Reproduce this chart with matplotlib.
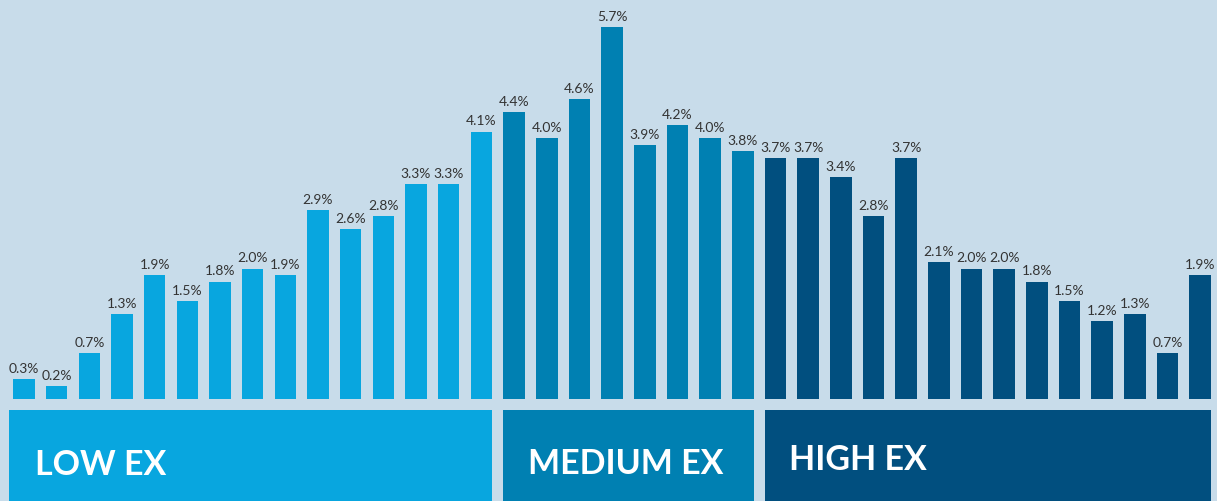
import matplotlib
matplotlib.use("Agg")
import matplotlib.pyplot as plt
from matplotlib.patches import Rectangle

low_vals = [0.3, 0.2, 0.7, 1.3, 1.9, 1.5, 1.8, 2.0, 1.9, 2.9, 2.6, 2.8, 3.3, 3.3, 4.1]
medium_vals = [4.4, 4.0, 4.6, 5.7, 3.9, 4.2, 4.0, 3.8]
high_vals = [3.7, 3.7, 3.4, 2.8, 3.7, 2.1, 2.0, 2.0, 1.8, 1.5, 1.2, 1.3, 0.7, 1.9]
group_names = ["LOW EX", "MEDIUM EX", "HIGH EX"]
group_colors = ["#08A6DF", "#0080B2", "#014F7F"]
bg = "#C8DCEA"

fig = plt.figure(figsize=(12.17, 5.02), dpi=100)
fig.patch.set_facecolor(bg)
ax = fig.add_axes([0, 0, 1, 1])
ax.set_facecolor(bg)
step = 32.67
ax.set_xlim(-24 / step, (1217 - 24) / step)
ppu = 65.2
ax.set_ylim(-(102 / ppu), 400 / ppu)
ax.axis("off")

bw = 0.66
start = 0
groups = [low_vals, medium_vals, high_vals]
text_pos = [(35, -0.99), (528, -0.98), (789, -0.92)]
for g, (vals, name, col) in enumerate(zip(groups, group_names, group_colors)):
    xs = list(range(start, start + len(vals)))
    ax.bar(xs, vals, width=bw, color=col, edgecolor="none")
    for x, v in zip(xs, vals):
        ax.text(x, v + 0.08, f"{v:.1f}%", ha="center", va="bottom",
                fontsize=10, color="#333333", family="Lato")
    left = xs[0] - bw / 2 - (0.12 if g == 0 else 0)
    right = xs[-1] + bw / 2
    ax.add_patch(Rectangle((left, -0.168), right - left, -2, color=col, lw=0))
    tx = (text_pos[g][0] - 24) / step
    ax.text(tx, text_pos[g][1], name, ha="left", va="center", fontsize=24.5,
            fontweight="bold", color="white", family="Lato")
    start += len(vals)

fig.savefig("out.png", dpi=100, facecolor=bg)
